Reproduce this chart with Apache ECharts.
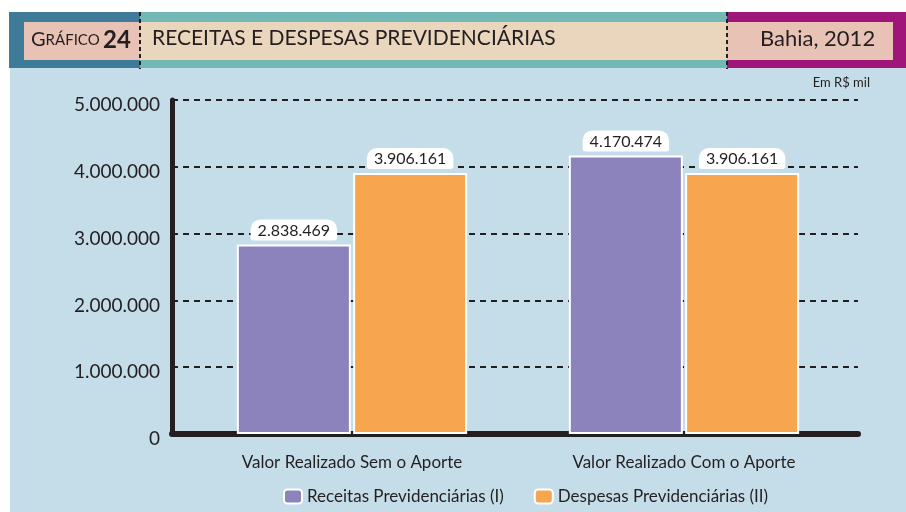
<!DOCTYPE html>
<html>
<head>
<meta charset="utf-8">
<script src="https://cdn.jsdelivr.net/npm/echarts@6/dist/echarts.min.js"></script>
<style>
  html, body { margin: 0; padding: 0; background: #fff; }
  #chart { width: 906px; height: 512px; }
</style>
</head>
<body>
<div id="chart"></div>
<script>
var categories = ['Valor Realizado Sem o Aporte', 'Valor Realizado Com o Aporte']
var receitas = [2838469, 4170474]
var despesas = [3906161, 3906161]
var seriesNames = ['Receitas Previdenciárias (I)', 'Despesas Previdenciárias (II)']
var yMax = 5000000
var yStep = 1000000

var font = 'Lato'
var ink = '#231f20'

function fmt(v) {
  return String(v).replace(/\B(?=(\d{3})+(?!\d))/g, '.')
}

var chart = echarts.init(document.getElementById('chart'))

var barLabel = {
  show: true,
  position: 'top',
  distance: 4,
  formatter: function (p) { return fmt(p.value) },
  backgroundColor: '#fff',
  borderRadius: [10, 10, 3, 3],
  padding: [3, 7, 2, 7],
  color: ink,
  fontFamily: font,
  fontSize: 16
}

var option = {
  backgroundColor: '#fff',
  animation: false,
  graphic: [
    // chart background and header band
    { type: 'rect', shape: { x: 10, y: 68, width: 896, height: 444 }, style: { fill: '#c5dde9' }, z: -10 },
    { type: 'rect', shape: { x: 9, y: 12, width: 131, height: 56 }, style: { fill: '#3e7b99' }, z: -9 },
    { type: 'rect', shape: { x: 140, y: 12, width: 587, height: 56 }, style: { fill: '#72b8b4' }, z: -9 },
    { type: 'rect', shape: { x: 727, y: 12, width: 179, height: 56 }, style: { fill: '#a0157a' }, z: -9 },
    { type: 'rect', shape: { x: 24, y: 22, width: 116, height: 38 }, style: { fill: '#e8c2b4' }, z: -8 },
    { type: 'rect', shape: { x: 140, y: 22, width: 587, height: 38 }, style: { fill: '#ead6bd' }, z: -8 },
    { type: 'rect', shape: { x: 727, y: 22, width: 166, height: 38 }, style: { fill: '#e8c2b4' }, z: -8 },
    { type: 'line', shape: { x1: 140, y1: 12, x2: 140, y2: 69 }, style: { stroke: ink, lineWidth: 2, lineDash: [4, 3] }, z: -7 },
    { type: 'line', shape: { x1: 727, y1: 12, x2: 727, y2: 69 }, style: { stroke: ink, lineWidth: 2, lineDash: [4, 3] }, z: -7 },
    {
      type: 'text', left: 31, top: 28,
      style: {
        text: '{g|G}{s|RÁFICO} {n|24}',
        rich: {
          g: { fontFamily: font, fontSize: 20, fill: ink },
          s: { fontFamily: font, fontSize: 15, fill: ink },
          n: { fontFamily: font, fontSize: 24, fontWeight: 'bold', fill: ink }
        }
      }
    },
    { type: 'text', left: 152, top: 28, style: { text: 'RECEITAS E DESPESAS PREVIDENCIÁRIAS', fontFamily: font, fontSize: 21, fill: ink } },
    { type: 'text', left: 760, top: 28, style: { text: 'Bahia, 2012', fontFamily: font, fontSize: 22, fill: ink } },
    { type: 'text', right: 36, top: 76, style: { text: 'Em R$ mil', fontFamily: font, fontSize: 13, fill: ink } }
  ],
  legend: {
    data: seriesNames,
    left: 278,
    top: 483,
    itemWidth: 18,
    itemHeight: 14,
    itemGap: 30,
    textStyle: { fontFamily: font, fontSize: 17, color: ink },
    itemStyle: { borderColor: '#fff', borderWidth: 2 }
  },
  grid: [
    { left: 172, right: 48, top: 100, bottom: 78 },
    { left: 186, width: 664, top: 100, bottom: 78 }
  ],
  xAxis: [
    {
      gridIndex: 0, type: 'value', min: 0, max: 1, show: true, offset: 4,
      axisLine: { show: true, lineStyle: { color: ink, width: 6 } },
      axisTick: { show: false }, axisLabel: { show: false }, splitLine: { show: false }
    },
    {
      gridIndex: 1, type: 'category', data: categories,
      axisLine: { show: false }, axisTick: { show: false },
      axisLabel: { margin: 20, fontFamily: font, fontSize: 17, color: ink }
    }
  ],
  yAxis: [
    {
      gridIndex: 0, type: 'value', min: 0, max: yMax, interval: yStep,
      axisLine: { show: true, lineStyle: { color: ink, width: 5 } },
      axisTick: { show: false },
      axisLabel: {
        margin: 12, verticalAlign: 'top', lineHeight: 10,
        fontFamily: font, fontSize: 19, color: ink, formatter: fmt
      },
      splitLine: { show: true, lineStyle: { color: ink, width: 2, type: [6, 5] } }
    },
    {
      gridIndex: 1, type: 'value', min: 0, max: yMax, interval: yStep, show: false
    }
  ],
  series: [
    {
      name: seriesNames[0], type: 'bar', xAxisIndex: 1, yAxisIndex: 1,
      data: receitas, barWidth: 114, barGap: '2%',
      itemStyle: { color: '#8c82bc', borderColor: '#fff', borderWidth: 2 },
      label: barLabel
    },
    {
      name: seriesNames[1], type: 'bar', xAxisIndex: 1, yAxisIndex: 1,
      data: despesas, barWidth: 114,
      itemStyle: { color: '#f8a54f', borderColor: '#fff', borderWidth: 2 },
      label: barLabel
    }
  ]
}

chart.setOption(option)
</script>
</body>
</html>
